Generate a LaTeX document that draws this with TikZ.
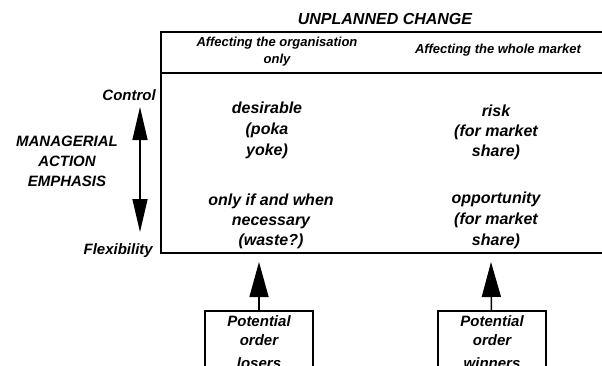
\documentclass[tikz,border=0pt]{standalone}
\usepackage{fontspec}
\setmainfont{Liberation Sans}
\usetikzlibrary{arrows.meta}

\begin{document}
\begin{tikzpicture}[x=1pt,y=-1pt,>={Triangle[length=33pt,width=15pt]}]
  \tikzstyle{rule}=[line width=2pt]
  \tikzstyle{txt}=[font=\fontsize{16}{21}\selectfont\bfseries\itshape,align=center,anchor=base,inner sep=0pt]
  \tikzstyle{head}=[txt,font=\fontsize{13}{17}\selectfont\bfseries\itshape]
  \tikzstyle{side}=[txt,font=\fontsize{15}{20}\selectfont\bfseries\itshape]
  \tikzstyle{order}=[draw,line width=1.5pt,font=\fontsize{15}{19}\selectfont\bfseries\itshape,
              align=center,anchor=north,minimum width=108pt,inner ysep=5pt,text depth=40pt]
  \tikzstyle{push}=[->,line width=1.5pt,>={Triangle[length=35pt,width=19pt]}]
  \useasboundingbox (0,0) rectangle (602,365);
  \clip (0,0) rectangle (602,365);
    % table frame
    \coordinate (tl) at (161,32);
    \coordinate (tr) at (602,32);
    \coordinate (hl) at (161,73);
    \coordinate (hr) at (602,73);
    \coordinate (bl) at (161,253);
    \coordinate (br) at (602,253);
    \draw[rule] (tr) -- (tl) -- (bl) -- (br);
    \draw[rule] (hl) -- (hr);
    \node [txt] (title) at (385,24) {UNPLANNED CHANGE};
    \node [head] (orghead) at (277,63) {Affecting the organisation\\only};
    \node [head] (mkthead) at (498,53) {Affecting the whole market};
    % cells (base = last line)
    \node [txt] (desirable) at (267,155) {desirable\\(poka\\yoke)};
    \node [txt,font=\fontsize{16}{20}\selectfont\bfseries\itshape] (waste) at (271,245) {only if and when\\necessary\\(waste?)};
    \node [txt,font=\fontsize{16}{20}\selectfont\bfseries\itshape] (risk) at (496,156) {risk\\(for market\\share)};
    \node [txt] (opportunity) at (496,245) {opportunity\\(for market\\share)};
    % emphasis axis
    \node [side,anchor=base east] (control) at (156,100) {Control};
    \node [side] (emphasis) at (67,186) {MANAGERIAL\\ACTION\\EMPHASIS};
    \node [side,anchor=base east] (flex) at (153,254) {Flexibility};
    \coordinate (ctrltip) at (140,107);
    \coordinate (flextip) at (140,232);
    \draw[<->,line width=1.5pt] (ctrltip) -- (flextip);
    % order boxes
    \node [order] (losers) at (259,310) {Potential\\order\\[4pt]losers};
    \node [order] (winners) at (492,310) {Potential\\order\\[4pt]winners};
    \coordinate (lostip) at (259,262);
    \coordinate (wintip) at (491,262);
    \draw[push] (losers) -- (lostip);
    \draw[push] (winners) -- (wintip);
\end{tikzpicture}
\end{document}
